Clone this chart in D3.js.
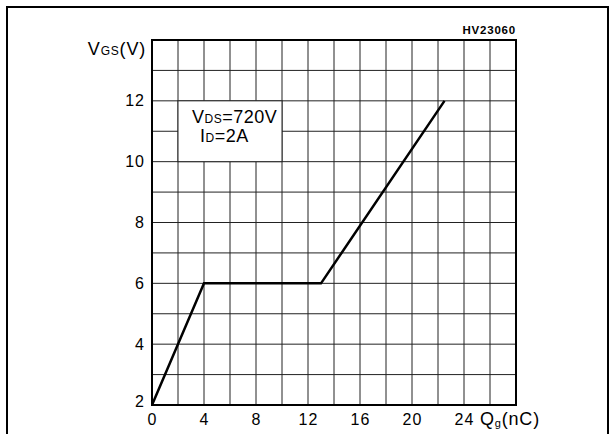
<!DOCTYPE html>
<html><head><meta charset="utf-8">
<script src="https://cdn.jsdelivr.net/npm/d3@7"></script>
<style>body{margin:0;background:#fff}svg{display:block}text{font-family:"Liberation Sans",Arial,sans-serif;fill:#000}</style>
</head><body>
<svg id="c" width="614" height="434"></svg>
<script>
const xTicks = [0, 4, 8, 12, 16, 20, 24];
const yTicks = [2, 4, 6, 8, 10, 12];
const curveQg = [0, 4, 13, 22.5];
const curveVgs = [2, 6, 6, 12];
const chartId = "HV23060";

const svg = d3.select("#c");
const W = 614, H = 434;
const m = {l: 152, r: 516, t: 40, b: 405};
const x = d3.scaleLinear().domain([0, 28]).range([m.l, m.r]);
const y = d3.scaleLinear().domain([2, 14]).range([m.b, m.t]);

// outer frame (open at bottom)
svg.append("path").attr("d", `M7,${H+5} L7,7 L608,7 L608,${H+5}`)
  .attr("fill", "none").attr("stroke", "#000").attr("stroke-width", 2);

// grid
const g = svg.append("g");
g.selectAll("line.v").data(d3.range(2, 28, 2)).join("line")
  .attr("x1", d => x(d)).attr("x2", d => x(d)).attr("y1", m.t).attr("y2", m.b)
  .attr("stroke", "#222").attr("stroke-width", 1);
g.selectAll("line.h").data(d3.range(3, 14, 1)).join("line")
  .attr("x1", m.l).attr("x2", m.r).attr("y1", d => y(d)).attr("y2", d => y(d))
  .attr("stroke", "#222").attr("stroke-width", 1);

// legend box covering grid
svg.append("rect").attr("x", x(2)).attr("y", y(12)).attr("width", x(10) - x(2)).attr("height", y(10) - y(12))
  .attr("fill", "#fff").attr("stroke", "#222").attr("stroke-width", 1);

// plot border
svg.append("rect").attr("x", m.l).attr("y", m.t).attr("width", m.r - m.l).attr("height", m.b - m.t)
  .attr("fill", "none").attr("stroke", "#000").attr("stroke-width", 2);

// axes labels
const yAxis = d3.axisLeft(y).tickValues(yTicks).tickSize(0).tickPadding(6).tickFormat(d3.format("d"));
const ya = svg.append("g").attr("transform", `translate(${m.l},0)`).call(yAxis);
ya.select(".domain").remove();
ya.selectAll("text").attr("font-size", 16).attr("letter-spacing", 1).attr("font-family", "Liberation Sans, Arial, sans-serif").attr("dx", "-1").attr("dy", "0.32em");
ya.selectAll("text").filter(d => d === 2).attr("dy", "0.1em");

const xAxis = d3.axisBottom(x).tickValues(xTicks).tickSize(0).tickPadding(9).tickFormat(d3.format("d"));
const xa = svg.append("g").attr("transform", `translate(0,${m.b})`).call(xAxis);
xa.select(".domain").remove();
xa.selectAll("text").attr("font-size", 16).attr("letter-spacing", 1).attr("font-family", "Liberation Sans, Arial, sans-serif");

// curve
const line = d3.line().x(d => x(d[0])).y(d => y(d[1]));
svg.append("path").datum(curveQg.map((q, i) => [q, curveVgs[i]]))
  .attr("d", line).attr("fill", "none").attr("stroke", "#000").attr("stroke-width", 2.5).attr("stroke-linejoin", "miter");

// axis titles
const yt = svg.append("text").attr("x", 146).attr("y", 55).attr("text-anchor", "end").attr("font-size", 18).attr("letter-spacing", 0.8);
yt.append("tspan").text("V");
yt.append("tspan").attr("font-size", 12).text("GS");
yt.append("tspan").text("(V)");

const xt = svg.append("text").attr("x", 480).attr("y", 425).attr("font-size", 18).attr("letter-spacing", 0.8);
xt.append("tspan").text("Q");
xt.append("tspan").attr("font-size", 11).attr("dy", 2).text("g");
xt.append("tspan").attr("dy", -2).text("(nC)");

// legend text
const l1 = svg.append("text").attr("x", 192).attr("y", 123).attr("font-size", 18).attr("letter-spacing", 0.5);
l1.append("tspan").text("V");
l1.append("tspan").attr("font-size", 12).text("DS");
l1.append("tspan").text("=720V");
const l2 = svg.append("text").attr("x", 200).attr("y", 142).attr("font-size", 18).attr("letter-spacing", 0.5);
l2.append("tspan").text("I");
l2.append("tspan").attr("font-size", 12).text("D");
l2.append("tspan").text("=2A");

// chart id
svg.append("text").attr("x", 516).attr("y", 34).attr("text-anchor", "end")
  .attr("font-size", 11.5).attr("font-weight", "bold").attr("letter-spacing", 0.8).text(chartId);
</script>
</body></html>
